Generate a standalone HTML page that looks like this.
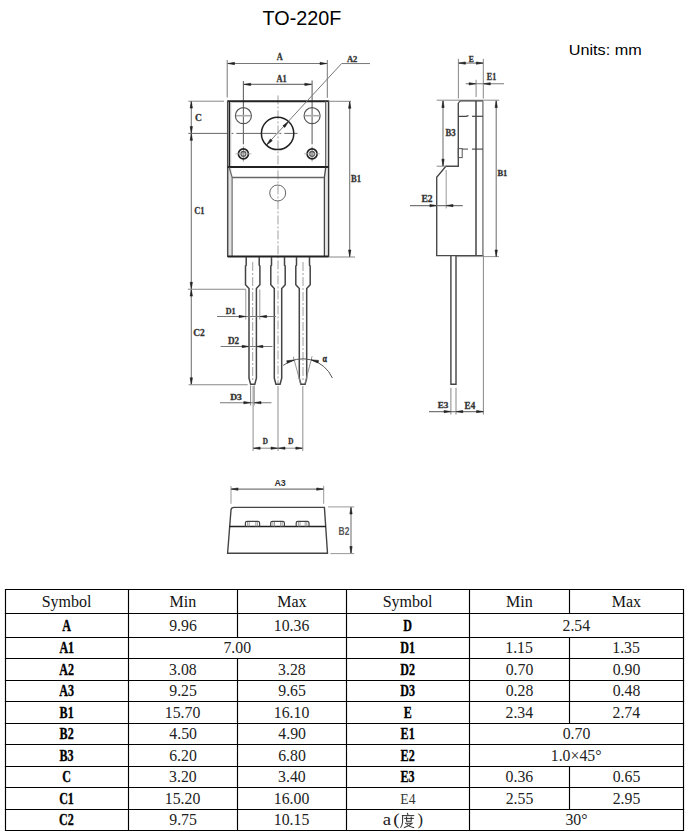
<!DOCTYPE html>
<html><head><meta charset="utf-8"><style>
html,body{margin:0;padding:0;background:#fff;}
body{width:690px;height:837px;overflow:hidden;position:relative;}
svg{position:absolute;left:0;top:0;}
</style></head><body>
<svg width="690" height="837" viewBox="0 0 690 837">
<rect width="690" height="837" fill="#fff"/>
<line x1="4.9" y1="589.5" x2="684.1" y2="589.5" stroke="#000" stroke-width="1.15" />
<line x1="4.9" y1="613.5" x2="684.1" y2="613.5" stroke="#000" stroke-width="1.15" />
<line x1="4.9" y1="637.5" x2="684.1" y2="637.5" stroke="#000" stroke-width="1.15" />
<line x1="4.9" y1="658.5" x2="684.1" y2="658.5" stroke="#000" stroke-width="1.15" />
<line x1="4.9" y1="680.5" x2="684.1" y2="680.5" stroke="#000" stroke-width="1.15" />
<line x1="4.9" y1="701.5" x2="684.1" y2="701.5" stroke="#000" stroke-width="1.15" />
<line x1="4.9" y1="723.5" x2="684.1" y2="723.5" stroke="#000" stroke-width="1.15" />
<line x1="4.9" y1="744.5" x2="684.1" y2="744.5" stroke="#000" stroke-width="1.15" />
<line x1="4.9" y1="766.5" x2="684.1" y2="766.5" stroke="#000" stroke-width="1.15" />
<line x1="4.9" y1="787.5" x2="684.1" y2="787.5" stroke="#000" stroke-width="1.15" />
<line x1="4.9" y1="809.5" x2="684.1" y2="809.5" stroke="#000" stroke-width="1.15" />
<line x1="4.9" y1="830.5" x2="684.1" y2="830.5" stroke="#000" stroke-width="1.15" />
<line x1="5.5" y1="589.5" x2="5.5" y2="830.5" stroke="#000" stroke-width="1.15" />
<line x1="128.5" y1="589.5" x2="128.5" y2="830.5" stroke="#000" stroke-width="1.15" />
<line x1="346.5" y1="589.5" x2="346.5" y2="830.5" stroke="#000" stroke-width="1.15" />
<line x1="469.5" y1="589.5" x2="469.5" y2="830.5" stroke="#000" stroke-width="1.15" />
<line x1="683.5" y1="589.5" x2="683.5" y2="830.5" stroke="#000" stroke-width="1.15" />
<line x1="237.5" y1="589.5" x2="237.5" y2="613.5" stroke="#000" stroke-width="1.15" />
<line x1="237.5" y1="613.5" x2="237.5" y2="637.5" stroke="#000" stroke-width="1.15" />
<line x1="237.5" y1="658.5" x2="237.5" y2="680.5" stroke="#000" stroke-width="1.15" />
<line x1="237.5" y1="680.5" x2="237.5" y2="701.5" stroke="#000" stroke-width="1.15" />
<line x1="237.5" y1="701.5" x2="237.5" y2="723.5" stroke="#000" stroke-width="1.15" />
<line x1="237.5" y1="723.5" x2="237.5" y2="744.5" stroke="#000" stroke-width="1.15" />
<line x1="237.5" y1="744.5" x2="237.5" y2="766.5" stroke="#000" stroke-width="1.15" />
<line x1="237.5" y1="766.5" x2="237.5" y2="787.5" stroke="#000" stroke-width="1.15" />
<line x1="237.5" y1="787.5" x2="237.5" y2="809.5" stroke="#000" stroke-width="1.15" />
<line x1="237.5" y1="809.5" x2="237.5" y2="830.5" stroke="#000" stroke-width="1.15" />
<line x1="569.5" y1="589.5" x2="569.5" y2="613.5" stroke="#000" stroke-width="1.15" />
<line x1="569.5" y1="637.5" x2="569.5" y2="658.5" stroke="#000" stroke-width="1.15" />
<line x1="569.5" y1="658.5" x2="569.5" y2="680.5" stroke="#000" stroke-width="1.15" />
<line x1="569.5" y1="680.5" x2="569.5" y2="701.5" stroke="#000" stroke-width="1.15" />
<line x1="569.5" y1="701.5" x2="569.5" y2="723.5" stroke="#000" stroke-width="1.15" />
<line x1="569.5" y1="766.5" x2="569.5" y2="787.5" stroke="#000" stroke-width="1.15" />
<line x1="569.5" y1="787.5" x2="569.5" y2="809.5" stroke="#000" stroke-width="1.15" />
<path d="M227.2,60 L227.2,97.5" fill="none" stroke="#777" stroke-width="1" stroke-linecap="butt" stroke-linejoin="miter"/>
<path d="M327.3,60 L327.3,97.8" fill="none" stroke="#777" stroke-width="1" stroke-linecap="butt" stroke-linejoin="miter"/>
<path d="M227.2,63.5 L327.3,63.5" fill="none" stroke="#777" stroke-width="1.2" stroke-linecap="butt" stroke-linejoin="miter"/>
<path d="M228.00,63.50 L234.50,62.35 L234.50,64.65 Z" fill="#222" stroke="#222" stroke-width="0.6" stroke-linejoin="round"/>
<path d="M326.50,63.50 L320.00,64.65 L320.00,62.35 Z" fill="#222" stroke="#222" stroke-width="0.6" stroke-linejoin="round"/>
<path d="M243.4,84.4 L312.1,84.4" fill="none" stroke="#777" stroke-width="1.2" stroke-linecap="butt" stroke-linejoin="miter"/>
<path d="M244.20,84.40 L250.70,83.25 L250.70,85.55 Z" fill="#222" stroke="#222" stroke-width="0.6" stroke-linejoin="round"/>
<path d="M311.30,84.40 L304.80,85.55 L304.80,83.25 Z" fill="#222" stroke="#222" stroke-width="0.6" stroke-linejoin="round"/>
<path d="M243.4,81 L243.4,144.2" fill="none" stroke="#666" stroke-width="1.1" stroke-linecap="butt" stroke-linejoin="miter"/>
<path d="M243.4,146.5 L243.4,161.5" fill="none" stroke="#888" stroke-width="0.9" stroke-linecap="butt" stroke-linejoin="miter"/>
<path d="M312.1,80.5 L312.1,144.2" fill="none" stroke="#666" stroke-width="1.1" stroke-linecap="butt" stroke-linejoin="miter"/>
<path d="M312.1,146.5 L312.1,161.5" fill="none" stroke="#888" stroke-width="0.9" stroke-linecap="butt" stroke-linejoin="miter"/>
<path d="M278,95.4 L278,384" fill="none" stroke="#a0a0a0" stroke-width="1" stroke-linecap="butt" stroke-linejoin="miter" stroke-dasharray="9 2 2 2"/>
<path d="M188.3,133.4 L297.6,133.4" fill="none" stroke="#666" stroke-width="1" stroke-linecap="butt" stroke-linejoin="miter" stroke-dasharray="40 3 2 3"/>
<path d="M227.7,101.3 L328.6,101.3" fill="none" stroke="#222" stroke-width="2.1" stroke-linecap="butt" stroke-linejoin="miter"/>
<rect x="228.3" y="102" width="3.2" height="154" fill="#e2e2e2"/>
<rect x="324.9" y="102" width="3.1" height="154" fill="#e8e8e8"/>
<path d="M227.7,100.5 L227.7,257" fill="none" stroke="#4a4a4a" stroke-width="1.5" stroke-linecap="butt" stroke-linejoin="miter"/>
<path d="M229.5,101 L229.5,167" fill="none" stroke="#222" stroke-width="1.3" stroke-linecap="butt" stroke-linejoin="miter"/>
<path d="M328.6,100.5 L328.6,257" fill="none" stroke="#333" stroke-width="1.4" stroke-linecap="butt" stroke-linejoin="miter"/>
<path d="M325.7,101 L325.7,167" fill="none" stroke="#555" stroke-width="1.1" stroke-linecap="butt" stroke-linejoin="miter"/>
<path d="M227.7,167 L328.6,167" fill="none" stroke="#222" stroke-width="1.9" stroke-linecap="butt" stroke-linejoin="miter"/>
<path d="M229.2,167.5 L232.1,177.4 L232.1,256" fill="none" stroke="#666" stroke-width="1.2" stroke-linecap="butt" stroke-linejoin="miter"/>
<path d="M325.7,167.5 L324.4,177.4 L324.4,256" fill="none" stroke="#444" stroke-width="1.3" stroke-linecap="butt" stroke-linejoin="miter"/>
<path d="M232.1,177.5 L324.4,177.5" fill="none" stroke="#666" stroke-width="1.3" stroke-linecap="butt" stroke-linejoin="miter"/>
<path d="M227.7,256.4 L328.6,256.4" fill="none" stroke="#222" stroke-width="2.0" stroke-linecap="butt" stroke-linejoin="miter"/>
<circle cx="243.4" cy="115.7" r="8.0" fill="none" stroke="#555" stroke-width="1.2"/>
<path d="M235.9,115.7 L250.9,115.7" fill="none" stroke="#aaa" stroke-width="1.6" stroke-linecap="butt" stroke-linejoin="miter"/>
<circle cx="243.4" cy="153.9" r="5.0" fill="none" stroke="#222" stroke-width="1.7"/>
<circle cx="243.4" cy="153.9" r="2.4" fill="none" stroke="#555" stroke-width="1.3"/>
<circle cx="243.4" cy="153.9" r="0.8" fill="none" stroke="#888" stroke-width="0.8"/>
<path d="M235.4,153.8 L251.4,153.8" fill="none" stroke="#aaa" stroke-width="0.8" stroke-linecap="butt" stroke-linejoin="miter"/>
<circle cx="312.1" cy="115.7" r="8.0" fill="none" stroke="#555" stroke-width="1.2"/>
<path d="M304.6,115.7 L319.6,115.7" fill="none" stroke="#aaa" stroke-width="1.6" stroke-linecap="butt" stroke-linejoin="miter"/>
<circle cx="312.1" cy="153.9" r="5.0" fill="none" stroke="#222" stroke-width="1.7"/>
<circle cx="312.1" cy="153.9" r="2.4" fill="none" stroke="#555" stroke-width="1.3"/>
<circle cx="312.1" cy="153.9" r="0.8" fill="none" stroke="#888" stroke-width="0.8"/>
<path d="M304.1,153.8 L320.1,153.8" fill="none" stroke="#aaa" stroke-width="0.8" stroke-linecap="butt" stroke-linejoin="miter"/>
<circle cx="277.6" cy="133.4" r="16.2" fill="none" stroke="#222" stroke-width="1.5"/>
<circle cx="277.7" cy="193.0" r="8.0" fill="none" stroke="#666" stroke-width="1.0"/>
<path d="M267.8,143.6 L341.6,63.55 L370,63.55" fill="none" stroke="#777" stroke-width="1.0" stroke-linecap="butt" stroke-linejoin="miter"/>
<path d="M266.60,145.00 L270.38,138.97 L272.29,140.73 Z" fill="#222" stroke="#222" stroke-width="0.6" stroke-linejoin="round"/>
<path d="M288.60,121.40 L284.82,127.43 L282.91,125.67 Z" fill="#222" stroke="#222" stroke-width="0.6" stroke-linejoin="round"/>
<path d="M188.3,101.2 L224,101.2" fill="none" stroke="#888" stroke-width="1" stroke-linecap="butt" stroke-linejoin="miter"/>
<path d="M191.3,101.2 L191.3,384.7" fill="none" stroke="#777" stroke-width="1.1" stroke-linecap="butt" stroke-linejoin="miter"/>
<path d="M191.30,101.60 L192.45,108.10 L190.15,108.10 Z" fill="#222" stroke="#222" stroke-width="0.6" stroke-linejoin="round"/>
<path d="M191.30,133.00 L190.15,126.50 L192.45,126.50 Z" fill="#222" stroke="#222" stroke-width="0.6" stroke-linejoin="round"/>
<path d="M191.30,133.80 L192.45,140.30 L190.15,140.30 Z" fill="#222" stroke="#222" stroke-width="0.6" stroke-linejoin="round"/>
<path d="M191.30,288.80 L190.15,282.30 L192.45,282.30 Z" fill="#222" stroke="#222" stroke-width="0.6" stroke-linejoin="round"/>
<path d="M191.30,289.60 L192.45,296.10 L190.15,296.10 Z" fill="#222" stroke="#222" stroke-width="0.6" stroke-linejoin="round"/>
<path d="M191.30,384.30 L190.15,377.80 L192.45,377.80 Z" fill="#222" stroke="#222" stroke-width="0.6" stroke-linejoin="round"/>
<path d="M187.9,289.3 L246,289.3" fill="none" stroke="#888" stroke-width="1.1" stroke-linecap="butt" stroke-linejoin="miter"/>
<path d="M188.6,384.8 L247.7,384.8" fill="none" stroke="#888" stroke-width="1.1" stroke-linecap="butt" stroke-linejoin="miter"/>
<path d="M328.6,101.3 L351,101.3" fill="none" stroke="#888" stroke-width="1" stroke-linecap="butt" stroke-linejoin="miter"/>
<path d="M328.6,257 L355,257" fill="none" stroke="#888" stroke-width="1" stroke-linecap="butt" stroke-linejoin="miter"/>
<path d="M349.7,101.3 L349.7,257" fill="none" stroke="#777" stroke-width="1.1" stroke-linecap="butt" stroke-linejoin="miter"/>
<path d="M349.70,101.80 L350.85,108.30 L348.55,108.30 Z" fill="#222" stroke="#222" stroke-width="0.6" stroke-linejoin="round"/>
<path d="M349.70,256.50 L348.55,250.00 L350.85,250.00 Z" fill="#222" stroke="#222" stroke-width="0.6" stroke-linejoin="round"/>
<path d="M246.2,257 L246.2,265.3 L245.5,266 L245.5,284.8 L249.0,288.6 L249.0,378.2 L250.6,384.3 L254.79999999999998,384.3 L256.4,378.2 L256.4,288.6 L259.9,284.8 L259.9,266 L259.2,265.3 L259.2,257" fill="none" stroke="#444" stroke-width="1.5" stroke-linecap="butt" stroke-linejoin="miter"/>
<path d="M252.7,262 L252.7,382" fill="none" stroke="#a0a0a0" stroke-width="1" stroke-linecap="butt" stroke-linejoin="miter" stroke-dasharray="9 2 2 2"/>
<path d="M271.5,257 L271.5,265.3 L270.8,266 L270.8,284.8 L274.3,288.6 L274.3,378.2 L275.9,384.3 L280.1,384.3 L281.7,378.2 L281.7,288.6 L285.2,284.8 L285.2,266 L284.5,265.3 L284.5,257" fill="none" stroke="#444" stroke-width="1.5" stroke-linecap="butt" stroke-linejoin="miter"/>
<path d="M296.5,257 L296.5,265.3 L295.8,266 L295.8,284.8 L299.3,288.6 L299.3,378.2 L300.9,384.3 L305.1,384.3 L306.7,378.2 L306.7,288.6 L310.2,284.8 L310.2,266 L309.5,265.3 L309.5,257" fill="none" stroke="#444" stroke-width="1.5" stroke-linecap="butt" stroke-linejoin="miter"/>
<path d="M303.0,262 L303.0,382" fill="none" stroke="#a0a0a0" stroke-width="1" stroke-linecap="butt" stroke-linejoin="miter" stroke-dasharray="9 2 2 2"/>
<path d="M245.8,289.5 L245.8,319.5" fill="none" stroke="#999" stroke-width="1" stroke-linecap="butt" stroke-linejoin="miter"/>
<path d="M259.8,289.5 L259.8,319.5" fill="none" stroke="#999" stroke-width="1" stroke-linecap="butt" stroke-linejoin="miter"/>
<path d="M217,316.5 L276,316.5" fill="none" stroke="#777" stroke-width="1.1" stroke-linecap="butt" stroke-linejoin="miter"/>
<path d="M245.50,316.50 L239.00,317.65 L239.00,315.35 Z" fill="#222" stroke="#222" stroke-width="0.6" stroke-linejoin="round"/>
<path d="M260.10,316.50 L266.60,315.35 L266.60,317.65 Z" fill="#222" stroke="#222" stroke-width="0.6" stroke-linejoin="round"/>
<path d="M220.6,346.5 L272.4,346.5" fill="none" stroke="#777" stroke-width="1.1" stroke-linecap="butt" stroke-linejoin="miter"/>
<path d="M248.60,346.50 L242.10,347.65 L242.10,345.35 Z" fill="#222" stroke="#222" stroke-width="0.6" stroke-linejoin="round"/>
<path d="M256.40,346.50 L262.90,345.35 L262.90,347.65 Z" fill="#222" stroke="#222" stroke-width="0.6" stroke-linejoin="round"/>
<path d="M250.6,385.5 L250.6,405.5" fill="none" stroke="#888" stroke-width="1" stroke-linecap="butt" stroke-linejoin="miter"/>
<path d="M254.2,385.5 L254.2,405.5" fill="none" stroke="#888" stroke-width="1" stroke-linecap="butt" stroke-linejoin="miter"/>
<path d="M220,402.7 L271.5,402.7" fill="none" stroke="#777" stroke-width="1.1" stroke-linecap="butt" stroke-linejoin="miter"/>
<path d="M250.30,402.70 L243.80,403.85 L243.80,401.55 Z" fill="#222" stroke="#222" stroke-width="0.6" stroke-linejoin="round"/>
<path d="M254.50,402.70 L261.00,401.55 L261.00,403.85 Z" fill="#222" stroke="#222" stroke-width="0.6" stroke-linejoin="round"/>
<path d="M253.1,386 L253.1,451" fill="none" stroke="#999" stroke-width="1.1" stroke-linecap="butt" stroke-linejoin="miter"/>
<path d="M278.0,386 L278.0,451" fill="none" stroke="#999" stroke-width="1.1" stroke-linecap="butt" stroke-linejoin="miter"/>
<path d="M302.8,386 L302.8,451" fill="none" stroke="#999" stroke-width="1.1" stroke-linecap="butt" stroke-linejoin="miter"/>
<path d="M253.1,448.2 L302.8,448.2" fill="none" stroke="#888" stroke-width="1.0" stroke-linecap="butt" stroke-linejoin="miter"/>
<path d="M253.60,448.20 L260.10,447.05 L260.10,449.35 Z" fill="#222" stroke="#222" stroke-width="0.6" stroke-linejoin="round"/>
<path d="M277.50,448.20 L271.00,449.35 L271.00,447.05 Z" fill="#222" stroke="#222" stroke-width="0.6" stroke-linejoin="round"/>
<path d="M278.50,448.20 L285.00,447.05 L285.00,449.35 Z" fill="#222" stroke="#222" stroke-width="0.6" stroke-linejoin="round"/>
<path d="M302.30,448.20 L295.80,449.35 L295.80,447.05 Z" fill="#222" stroke="#222" stroke-width="0.6" stroke-linejoin="round"/>
<path d="M283.2,365.4 A32.4,32.4 0 0 1 332.4,378" fill="none" stroke="#555" stroke-width="1.0"/>
<path d="M293.3,356.7 L300.6,383.6" fill="none" stroke="#888" stroke-width="0.9" stroke-linecap="butt" stroke-linejoin="miter"/>
<path d="M312.1,356.2 L305.0,383.6" fill="none" stroke="#888" stroke-width="0.9" stroke-linecap="butt" stroke-linejoin="miter"/>
<path d="M294.30,360.00 L287.40,363.22 L286.72,360.71 Z" fill="#222" stroke="#222" stroke-width="0.6" stroke-linejoin="round"/>
<path d="M311.00,359.80 L318.59,360.41 L317.94,362.93 Z" fill="#222" stroke="#222" stroke-width="0.6" stroke-linejoin="round"/>
<path d="M436.7,100.2 L499.3,100.2" fill="none" stroke="#888" stroke-width="1" stroke-linecap="butt" stroke-linejoin="miter"/>
<path d="M458.4,58.8 L458.4,98.5" fill="none" stroke="#888" stroke-width="1" stroke-linecap="butt" stroke-linejoin="miter"/>
<path d="M483.3,58.8 L483.3,98.5" fill="none" stroke="#888" stroke-width="1" stroke-linecap="butt" stroke-linejoin="miter"/>
<path d="M458.4,63.1 L483.3,63.1" fill="none" stroke="#777" stroke-width="1.1" stroke-linecap="butt" stroke-linejoin="miter"/>
<path d="M458.90,63.10 L465.40,61.95 L465.40,64.25 Z" fill="#222" stroke="#222" stroke-width="0.6" stroke-linejoin="round"/>
<path d="M482.80,63.10 L476.30,64.25 L476.30,61.95 Z" fill="#222" stroke="#222" stroke-width="0.6" stroke-linejoin="round"/>
<path d="M476.1,79.8 L476.1,97" fill="none" stroke="#888" stroke-width="1" stroke-linecap="butt" stroke-linejoin="miter"/>
<path d="M465.7,83.8 L504,83.8" fill="none" stroke="#777" stroke-width="1.1" stroke-linecap="butt" stroke-linejoin="miter"/>
<path d="M475.60,83.80 L469.10,84.95 L469.10,82.65 Z" fill="#222" stroke="#222" stroke-width="0.6" stroke-linejoin="round"/>
<path d="M483.80,83.80 L490.30,82.65 L490.30,84.95 Z" fill="#222" stroke="#222" stroke-width="0.6" stroke-linejoin="round"/>
<path d="M460,100.9 L483,100.9" fill="none" stroke="#555" stroke-width="1.4" stroke-linecap="butt" stroke-linejoin="miter"/>
<path d="M458.3,103 L460.3,100.9" fill="none" stroke="#555" stroke-width="1.2" stroke-linecap="butt" stroke-linejoin="miter"/>
<path d="M458.3,103 L458.3,166.2 L445.9,166.2 L436.7,177.2 L436.7,255.6 L483,255.6" fill="none" stroke="#4a4a4a" stroke-width="1.4" stroke-linecap="butt" stroke-linejoin="miter"/>
<path d="M476.0,101 L476.0,255.6" fill="none" stroke="#444" stroke-width="1.5" stroke-linecap="butt" stroke-linejoin="miter"/>
<path d="M482.9,101 L482.9,255.6" fill="none" stroke="#808080" stroke-width="1.5" stroke-linecap="butt" stroke-linejoin="miter"/>
<path d="M458.3,116.4 L466,116.4 L468.5,115.6" fill="none" stroke="#444" stroke-width="1.2" stroke-linecap="butt" stroke-linejoin="miter"/>
<path d="M472,116.3 L483,116.3" fill="none" stroke="#444" stroke-width="1.2" stroke-linecap="butt" stroke-linejoin="miter"/>
<path d="M462,149.1 L468,149.1" fill="none" stroke="#555" stroke-width="1.1" stroke-linecap="butt" stroke-linejoin="miter"/>
<path d="M472,149.1 L483,149.1" fill="none" stroke="#444" stroke-width="1.1" stroke-linecap="butt" stroke-linejoin="miter"/>
<rect x="458.3" y="148.6" width="3.9" height="9" fill="none" stroke="#555" stroke-width="1"/>
<path d="M436.7,166.2 L446,166.2" fill="none" stroke="#888" stroke-width="1" stroke-linecap="butt" stroke-linejoin="miter"/>
<path d="M443,100.5 L443,166.2" fill="none" stroke="#777" stroke-width="1.1" stroke-linecap="butt" stroke-linejoin="miter"/>
<path d="M443.00,101.00 L444.15,107.50 L441.85,107.50 Z" fill="#222" stroke="#222" stroke-width="0.6" stroke-linejoin="round"/>
<path d="M443.00,165.70 L441.85,159.20 L444.15,159.20 Z" fill="#222" stroke="#222" stroke-width="0.6" stroke-linejoin="round"/>
<path d="M456.6,256.6 L499,256.6" fill="none" stroke="#999" stroke-width="1" stroke-linecap="butt" stroke-linejoin="miter"/>
<path d="M496.2,100.5 L496.2,257" fill="none" stroke="#777" stroke-width="1.1" stroke-linecap="butt" stroke-linejoin="miter"/>
<path d="M496.20,101.00 L497.35,107.50 L495.05,107.50 Z" fill="#222" stroke="#222" stroke-width="0.6" stroke-linejoin="round"/>
<path d="M496.20,256.50 L495.05,250.00 L497.35,250.00 Z" fill="#222" stroke="#222" stroke-width="0.6" stroke-linejoin="round"/>
<path d="M446.2,170 L446.2,208.4" fill="none" stroke="#999" stroke-width="1" stroke-linecap="butt" stroke-linejoin="miter"/>
<path d="M410,205.6 L462.8,205.6" fill="none" stroke="#777" stroke-width="1.1" stroke-linecap="butt" stroke-linejoin="miter"/>
<path d="M436.40,205.60 L429.90,206.75 L429.90,204.45 Z" fill="#222" stroke="#222" stroke-width="0.6" stroke-linejoin="round"/>
<path d="M446.50,205.60 L453.00,204.45 L453.00,206.75 Z" fill="#222" stroke="#222" stroke-width="0.6" stroke-linejoin="round"/>
<path d="M450.9,256 L450.9,384.2 L456.0,384.2 L456.0,256" fill="none" stroke="#444" stroke-width="1.4" stroke-linecap="butt" stroke-linejoin="miter"/>
<path d="M450.9,387.8 L450.9,414.6" fill="none" stroke="#888" stroke-width="1" stroke-linecap="butt" stroke-linejoin="miter"/>
<path d="M456.0,387.8 L456.0,414.6" fill="none" stroke="#888" stroke-width="1" stroke-linecap="butt" stroke-linejoin="miter"/>
<path d="M483.4,255 L483.4,414.6" fill="none" stroke="#888" stroke-width="1" stroke-linecap="butt" stroke-linejoin="miter"/>
<path d="M429,411.6 L483.8,411.6" fill="none" stroke="#777" stroke-width="1.1" stroke-linecap="butt" stroke-linejoin="miter"/>
<path d="M450.60,411.60 L444.10,412.75 L444.10,410.45 Z" fill="#222" stroke="#222" stroke-width="0.6" stroke-linejoin="round"/>
<path d="M456.30,411.60 L462.80,410.45 L462.80,412.75 Z" fill="#222" stroke="#222" stroke-width="0.6" stroke-linejoin="round"/>
<path d="M483.10,411.60 L476.60,412.75 L476.60,410.45 Z" fill="#222" stroke="#222" stroke-width="0.6" stroke-linejoin="round"/>
<path d="M231,486 L231,503.8" fill="none" stroke="#999" stroke-width="1" stroke-linecap="butt" stroke-linejoin="miter"/>
<path d="M323.7,485.8 L323.7,503.8" fill="none" stroke="#999" stroke-width="1" stroke-linecap="butt" stroke-linejoin="miter"/>
<path d="M231,489.1 L323.7,489.1" fill="none" stroke="#777" stroke-width="1.1" stroke-linecap="butt" stroke-linejoin="miter"/>
<path d="M231.50,489.10 L238.00,487.95 L238.00,490.25 Z" fill="#222" stroke="#222" stroke-width="0.6" stroke-linejoin="round"/>
<path d="M323.20,489.10 L316.70,490.25 L316.70,487.95 Z" fill="#222" stroke="#222" stroke-width="0.6" stroke-linejoin="round"/>
<path d="M227.6,553.3 L231,510 Q231.3,507.4 234,507.4 L324.4,507.4 L327.5,553.3 Z" fill="none" stroke="#444" stroke-width="1.4"/>
<path d="M229.2,526.5 L326,526.5" fill="none" stroke="#222" stroke-width="1.6" stroke-linecap="butt" stroke-linejoin="miter"/>
<path d="M245.4,526.5 L245.4,523 Q245.4,521.4 247.0,521.4 L258.0,521.4 Q259.6,521.4 259.6,523 L259.6,526.5" fill="none" stroke="#444" stroke-width="1.2"/>
<line x1="247.6" y1="522" x2="247.6" y2="526.5" stroke="#888" stroke-width="0.8"/>
<line x1="249.20000000000002" y1="522" x2="249.20000000000002" y2="526.5" stroke="#888" stroke-width="0.8"/>
<line x1="257.40000000000003" y1="522" x2="257.40000000000003" y2="526.5" stroke="#888" stroke-width="0.8"/>
<line x1="255.8" y1="522" x2="255.8" y2="526.5" stroke="#888" stroke-width="0.8"/>
<path d="M270.7,526.5 L270.7,523 Q270.7,521.4 272.3,521.4 L282.79999999999995,521.4 Q284.4,521.4 284.4,523 L284.4,526.5" fill="none" stroke="#444" stroke-width="1.2"/>
<line x1="272.9" y1="522" x2="272.9" y2="526.5" stroke="#888" stroke-width="0.8"/>
<line x1="274.5" y1="522" x2="274.5" y2="526.5" stroke="#888" stroke-width="0.8"/>
<line x1="282.2" y1="522" x2="282.2" y2="526.5" stroke="#888" stroke-width="0.8"/>
<line x1="280.59999999999997" y1="522" x2="280.59999999999997" y2="526.5" stroke="#888" stroke-width="0.8"/>
<path d="M296.2,526.5 L296.2,523 Q296.2,521.4 297.8,521.4 L307.4,521.4 Q309.0,521.4 309.0,523 L309.0,526.5" fill="none" stroke="#444" stroke-width="1.2"/>
<line x1="298.4" y1="522" x2="298.4" y2="526.5" stroke="#888" stroke-width="0.8"/>
<line x1="300.0" y1="522" x2="300.0" y2="526.5" stroke="#888" stroke-width="0.8"/>
<line x1="306.8" y1="522" x2="306.8" y2="526.5" stroke="#888" stroke-width="0.8"/>
<line x1="305.2" y1="522" x2="305.2" y2="526.5" stroke="#888" stroke-width="0.8"/>
<path d="M328,506.9 L354.2,506.9" fill="none" stroke="#999" stroke-width="1" stroke-linecap="butt" stroke-linejoin="miter"/>
<path d="M330.4,553.6 L354.2,553.6" fill="none" stroke="#999" stroke-width="1" stroke-linecap="butt" stroke-linejoin="miter"/>
<path d="M351,507 L351,553.5" fill="none" stroke="#777" stroke-width="1.1" stroke-linecap="butt" stroke-linejoin="miter"/>
<path d="M351.00,507.50 L352.15,514.00 L349.85,514.00 Z" fill="#222" stroke="#222" stroke-width="0.6" stroke-linejoin="round"/>
<path d="M351.00,553.00 L349.85,546.50 L352.15,546.50 Z" fill="#222" stroke="#222" stroke-width="0.6" stroke-linejoin="round"/>
<text transform="translate(41.72,606.70) scale(1,1)" style="font-family:'Liberation Serif';font-weight:normal;font-size:16.0px" fill="#111">Symbol</text>
<text transform="translate(169.56,606.70) scale(1,1)" style="font-family:'Liberation Serif';font-weight:normal;font-size:16.0px" fill="#111">Min</text>
<text transform="translate(277.20,606.70) scale(1,1)" style="font-family:'Liberation Serif';font-weight:normal;font-size:16.0px" fill="#111">Max</text>
<text transform="translate(62.16,630.98) scale(0.74,1.0)" style="font-family:'Liberation Serif';font-weight:bold;font-size:16.3px" fill="#000" stroke="#000" stroke-width="0.35">A</text>
<text transform="translate(169.18,630.78) scale(1.0,1.04)" style="font-family:'Liberation Serif';font-weight:normal;font-size:15.8px" fill="#222">9.96</text>
<text transform="translate(273.75,630.78) scale(1.0,1.04)" style="font-family:'Liberation Serif';font-weight:normal;font-size:15.8px" fill="#222">10.36</text>
<text transform="translate(59.38,653.48) scale(0.74,1.0)" style="font-family:'Liberation Serif';font-weight:bold;font-size:16.3px" fill="#000" stroke="#000" stroke-width="0.35">A1</text>
<text transform="translate(223.44,653.28) scale(1.0,1.04)" style="font-family:'Liberation Serif';font-weight:normal;font-size:15.8px" fill="#222">7.00</text>
<text transform="translate(59.32,674.90) scale(0.74,1.0)" style="font-family:'Liberation Serif';font-weight:bold;font-size:16.3px" fill="#000" stroke="#000" stroke-width="0.35">A2</text>
<text transform="translate(169.10,674.78) scale(1.0,1.04)" style="font-family:'Liberation Serif';font-weight:normal;font-size:15.8px" fill="#222">3.08</text>
<text transform="translate(278.10,674.78) scale(1.0,1.04)" style="font-family:'Liberation Serif';font-weight:normal;font-size:15.8px" fill="#222">3.28</text>
<text transform="translate(59.26,696.32) scale(0.74,1.0)" style="font-family:'Liberation Serif';font-weight:bold;font-size:16.3px" fill="#000" stroke="#000" stroke-width="0.35">A3</text>
<text transform="translate(169.25,696.28) scale(1.0,1.04)" style="font-family:'Liberation Serif';font-weight:normal;font-size:15.8px" fill="#222">9.25</text>
<text transform="translate(278.25,696.28) scale(1.0,1.04)" style="font-family:'Liberation Serif';font-weight:normal;font-size:15.8px" fill="#222">9.65</text>
<text transform="translate(59.62,717.98) scale(0.74,1.0)" style="font-family:'Liberation Serif';font-weight:bold;font-size:16.3px" fill="#000" stroke="#000" stroke-width="0.35">B1</text>
<text transform="translate(164.83,717.78) scale(1.0,1.04)" style="font-family:'Liberation Serif';font-weight:normal;font-size:15.8px" fill="#222">15.70</text>
<text transform="translate(273.83,717.78) scale(1.0,1.04)" style="font-family:'Liberation Serif';font-weight:normal;font-size:15.8px" fill="#222">16.10</text>
<text transform="translate(59.62,739.32) scale(0.74,1.0)" style="font-family:'Liberation Serif';font-weight:bold;font-size:16.3px" fill="#000" stroke="#000" stroke-width="0.35">B2</text>
<text transform="translate(169.33,739.28) scale(1.0,1.04)" style="font-family:'Liberation Serif';font-weight:normal;font-size:15.8px" fill="#222">4.50</text>
<text transform="translate(278.33,739.28) scale(1.0,1.04)" style="font-family:'Liberation Serif';font-weight:normal;font-size:15.8px" fill="#222">4.90</text>
<text transform="translate(59.56,760.73) scale(0.74,1.0)" style="font-family:'Liberation Serif';font-weight:bold;font-size:16.3px" fill="#000" stroke="#000" stroke-width="0.35">B3</text>
<text transform="translate(169.18,760.78) scale(1.0,1.04)" style="font-family:'Liberation Serif';font-weight:normal;font-size:15.8px" fill="#222">6.20</text>
<text transform="translate(278.18,760.78) scale(1.0,1.04)" style="font-family:'Liberation Serif';font-weight:normal;font-size:15.8px" fill="#222">6.80</text>
<text transform="translate(62.28,782.32) scale(0.74,1.0)" style="font-family:'Liberation Serif';font-weight:bold;font-size:16.3px" fill="#000" stroke="#000" stroke-width="0.35">C</text>
<text transform="translate(169.10,782.28) scale(1.0,1.04)" style="font-family:'Liberation Serif';font-weight:normal;font-size:15.8px" fill="#222">3.20</text>
<text transform="translate(278.10,782.28) scale(1.0,1.04)" style="font-family:'Liberation Serif';font-weight:normal;font-size:15.8px" fill="#222">3.40</text>
<text transform="translate(59.14,803.90) scale(0.74,1.0)" style="font-family:'Liberation Serif';font-weight:bold;font-size:16.3px" fill="#000" stroke="#000" stroke-width="0.35">C1</text>
<text transform="translate(164.83,803.78) scale(1.0,1.04)" style="font-family:'Liberation Serif';font-weight:normal;font-size:15.8px" fill="#222">15.20</text>
<text transform="translate(273.83,803.78) scale(1.0,1.04)" style="font-family:'Liberation Serif';font-weight:normal;font-size:15.8px" fill="#222">16.00</text>
<text transform="translate(59.08,825.32) scale(0.74,1.0)" style="font-family:'Liberation Serif';font-weight:bold;font-size:16.3px" fill="#000" stroke="#000" stroke-width="0.35">C2</text>
<text transform="translate(169.25,825.28) scale(1.0,1.04)" style="font-family:'Liberation Serif';font-weight:normal;font-size:15.8px" fill="#222">9.75</text>
<text transform="translate(273.83,825.28) scale(1.0,1.04)" style="font-family:'Liberation Serif';font-weight:normal;font-size:15.8px" fill="#222">10.15</text>
<text transform="translate(382.72,606.70) scale(1,1)" style="font-family:'Liberation Serif';font-weight:normal;font-size:16.0px" fill="#111">Symbol</text>
<text transform="translate(506.06,606.70) scale(1,1)" style="font-family:'Liberation Serif';font-weight:normal;font-size:16.0px" fill="#111">Min</text>
<text transform="translate(611.70,606.70) scale(1,1)" style="font-family:'Liberation Serif';font-weight:normal;font-size:16.0px" fill="#111">Max</text>
<text transform="translate(403.34,630.90) scale(0.74,1.0)" style="font-family:'Liberation Serif';font-weight:bold;font-size:16.3px" fill="#000" stroke="#000" stroke-width="0.35">D</text>
<text transform="translate(562.52,630.78) scale(1.0,1.04)" style="font-family:'Liberation Serif';font-weight:normal;font-size:15.8px" fill="#222">2.54</text>
<text transform="translate(400.32,653.48) scale(0.74,1.0)" style="font-family:'Liberation Serif';font-weight:bold;font-size:16.3px" fill="#000" stroke="#000" stroke-width="0.35">D1</text>
<text transform="translate(505.28,653.28) scale(1.0,1.04)" style="font-family:'Liberation Serif';font-weight:normal;font-size:15.8px" fill="#222">1.15</text>
<text transform="translate(612.28,653.28) scale(1.0,1.04)" style="font-family:'Liberation Serif';font-weight:normal;font-size:15.8px" fill="#222">1.35</text>
<text transform="translate(400.26,674.82) scale(0.74,1.0)" style="font-family:'Liberation Serif';font-weight:bold;font-size:16.3px" fill="#000" stroke="#000" stroke-width="0.35">D2</text>
<text transform="translate(505.68,674.78) scale(1.0,1.04)" style="font-family:'Liberation Serif';font-weight:normal;font-size:15.8px" fill="#222">0.70</text>
<text transform="translate(612.67,674.78) scale(1.0,1.04)" style="font-family:'Liberation Serif';font-weight:normal;font-size:15.8px" fill="#222">0.90</text>
<text transform="translate(400.20,696.23) scale(0.74,1.0)" style="font-family:'Liberation Serif';font-weight:bold;font-size:16.3px" fill="#000" stroke="#000" stroke-width="0.35">D3</text>
<text transform="translate(505.68,696.28) scale(1.0,1.04)" style="font-family:'Liberation Serif';font-weight:normal;font-size:15.8px" fill="#222">0.28</text>
<text transform="translate(612.67,696.28) scale(1.0,1.04)" style="font-family:'Liberation Serif';font-weight:normal;font-size:15.8px" fill="#222">0.48</text>
<text transform="translate(403.64,717.90) scale(0.74,1.0)" style="font-family:'Liberation Serif';font-weight:bold;font-size:16.3px" fill="#000" stroke="#000" stroke-width="0.35">E</text>
<text transform="translate(505.52,717.78) scale(1.0,1.04)" style="font-family:'Liberation Serif';font-weight:normal;font-size:15.8px" fill="#222">2.34</text>
<text transform="translate(612.52,717.78) scale(1.0,1.04)" style="font-family:'Liberation Serif';font-weight:normal;font-size:15.8px" fill="#222">2.74</text>
<text transform="translate(400.62,739.48) scale(0.74,1.0)" style="font-family:'Liberation Serif';font-weight:bold;font-size:16.3px" fill="#000" stroke="#000" stroke-width="0.35">E1</text>
<text transform="translate(562.67,739.28) scale(1.0,1.04)" style="font-family:'Liberation Serif';font-weight:normal;font-size:15.8px" fill="#222">0.70</text>
<text transform="translate(400.62,760.82) scale(0.74,1.0)" style="font-family:'Liberation Serif';font-weight:bold;font-size:16.3px" fill="#000" stroke="#000" stroke-width="0.35">E2</text>
<text transform="translate(550.75,760.78) scale(1.0,1.04)" style="font-family:'Liberation Serif';font-weight:normal;font-size:15.8px" fill="#222">1.0×45°</text>
<text transform="translate(400.56,782.23) scale(0.74,1.0)" style="font-family:'Liberation Serif';font-weight:bold;font-size:16.3px" fill="#000" stroke="#000" stroke-width="0.35">E3</text>
<text transform="translate(505.60,782.28) scale(1.0,1.04)" style="font-family:'Liberation Serif';font-weight:normal;font-size:15.8px" fill="#222">0.36</text>
<text transform="translate(612.67,782.28) scale(1.0,1.04)" style="font-family:'Liberation Serif';font-weight:normal;font-size:15.8px" fill="#222">0.65</text>
<text transform="translate(505.68,803.78) scale(1.0,1.04)" style="font-family:'Liberation Serif';font-weight:normal;font-size:15.8px" fill="#222">2.55</text>
<text transform="translate(612.67,803.78) scale(1.0,1.04)" style="font-family:'Liberation Serif';font-weight:normal;font-size:15.8px" fill="#222">2.95</text>
<text transform="translate(565.44,825.28) scale(1.0,1.04)" style="font-family:'Liberation Serif';font-weight:normal;font-size:15.8px" fill="#222">30°</text>
<text transform="translate(400.36,803.74) scale(0.88,1.0)" style="font-family:'Liberation Serif';font-weight:normal;font-size:15.5px" fill="#333">E4</text>
<text transform="translate(382.65,825.43) scale(1.070,1)" style="font-family:'Liberation Serif';font-weight:normal;font-size:17.50px" fill="#222">a</text>
<text transform="translate(393.23,824.72) scale(1.194,1)" style="font-family:'Liberation Serif';font-weight:normal;font-size:16.11px" fill="#222">(</text>
<text transform="translate(417.40,824.72) scale(1.027,1)" style="font-family:'Liberation Serif';font-weight:normal;font-size:16.11px" fill="#222">)</text>
<text transform="translate(262.50,24.50) scale(0.997,1)" style="font-family:'Liberation Sans';font-weight:normal;font-size:19.86px" fill="#000">TO-220F</text>
<text transform="translate(568.80,54.65) scale(1.080,1)" style="font-family:'Liberation Sans';font-weight:normal;font-size:15.00px" fill="#000">Units: mm</text>
<text transform="translate(276.82,60.40) scale(0.770,1)" style="font-family:'Liberation Serif';font-weight:bold;font-size:10.76px" fill="#333" stroke="#333" stroke-width="0.3">A</text>
<text transform="translate(276.52,81.80) scale(0.890,1)" style="font-family:'Liberation Serif';font-weight:bold;font-size:9.39px" fill="#333" stroke="#333" stroke-width="0.3">A1</text>
<text transform="translate(346.91,61.51) scale(0.954,1)" style="font-family:'Liberation Serif';font-weight:bold;font-size:8.96px" fill="#333" stroke="#333" stroke-width="0.3">A2</text>
<text transform="translate(194.93,121.19) scale(0.896,1)" style="font-family:'Liberation Serif';font-weight:bold;font-size:10.61px" fill="#333" stroke="#333" stroke-width="0.3">C</text>
<text transform="translate(194.18,214.00) scale(0.824,1)" style="font-family:'Liberation Serif';font-weight:bold;font-size:10.30px" fill="#333" stroke="#333" stroke-width="0.3">C1</text>
<text transform="translate(193.23,336.29) scale(0.868,1)" style="font-family:'Liberation Serif';font-weight:bold;font-size:10.91px" fill="#333" stroke="#333" stroke-width="0.3">C2</text>
<text transform="translate(350.93,182.20) scale(0.826,1)" style="font-family:'Liberation Serif';font-weight:bold;font-size:10.45px" fill="#333" stroke="#333" stroke-width="0.3">B1</text>
<text transform="translate(225.64,314.30) scale(0.884,1)" style="font-family:'Liberation Serif';font-weight:bold;font-size:9.24px" fill="#333" stroke="#333" stroke-width="0.3">D1</text>
<text transform="translate(228.02,343.69) scale(0.862,1)" style="font-family:'Liberation Serif';font-weight:bold;font-size:10.61px" fill="#333" stroke="#333" stroke-width="0.3">D2</text>
<text transform="translate(230.21,399.84) scale(1.188,1)" style="font-family:'Liberation Serif';font-weight:bold;font-size:8.06px" fill="#333" stroke="#333" stroke-width="0.3">D3</text>
<text transform="translate(262.86,444.20) scale(1.000,1)" style="font-family:'Liberation Serif';font-weight:bold;font-size:7.23px" fill="#333" stroke="#333" stroke-width="0.3">D</text>
<text transform="translate(288.26,444.20) scale(1.000,1)" style="font-family:'Liberation Serif';font-weight:bold;font-size:7.23px" fill="#333" stroke="#333" stroke-width="0.3">D</text>
<text transform="translate(468.65,61.50) scale(0.923,1)" style="font-family:'Liberation Serif';font-weight:bold;font-size:8.31px" fill="#333" stroke="#333" stroke-width="0.3">E</text>
<text transform="translate(486.74,80.30) scale(0.785,1)" style="font-family:'Liberation Serif';font-weight:bold;font-size:10.30px" fill="#333" stroke="#333" stroke-width="0.3">E1</text>
<text transform="translate(445.43,135.89) scale(0.849,1)" style="font-family:'Liberation Serif';font-weight:bold;font-size:10.30px" fill="#333" stroke="#333" stroke-width="0.3">B3</text>
<text transform="translate(497.43,176.30) scale(0.925,1)" style="font-family:'Liberation Serif';font-weight:bold;font-size:9.24px" fill="#333" stroke="#333" stroke-width="0.3">B1</text>
<text transform="translate(421.51,202.31) scale(1.016,1)" style="font-family:'Liberation Serif';font-weight:bold;font-size:9.39px" fill="#333" stroke="#333" stroke-width="0.3">E2</text>
<text transform="translate(437.72,408.21) scale(0.993,1)" style="font-family:'Liberation Serif';font-weight:bold;font-size:9.25px" fill="#333" stroke="#333" stroke-width="0.3">E3</text>
<text transform="translate(464.62,408.80) scale(0.962,1)" style="font-family:'Liberation Serif';font-weight:bold;font-size:9.38px" fill="#333" stroke="#333" stroke-width="0.3">E4</text>
<text transform="translate(322.58,362.09) scale(0.757,1)" style="font-family:'Liberation Serif';font-weight:bold;font-size:10.62px" fill="#222" stroke="#222" stroke-width="0.3">α</text>
<text transform="translate(274.43,486.10) scale(0.905,1)" style="font-family:'Liberation Sans';font-weight:bold;font-size:9.86px" fill="#333">A3</text>
<text transform="translate(338.61,534.60) scale(0.800,1)" style="font-family:'Liberation Sans';font-weight:bold;font-size:10.57px" fill="#555">B2</text>
<g fill="none" stroke="#333" stroke-width="1.05">
<path d="M407.3,812.9 L408,815"/>
<path d="M401.8,815.6 L414.2,815.6"/>
<path d="M402.6,815.6 L402.6,822 Q402.3,825.5 400.5,827.8"/>
<path d="M404.2,818.4 L413.8,818.4"/>
<path d="M406.6,816.6 L406.6,821.2 L411.2,821.2 L411.2,816.6"/>
<path d="M405,823.2 L412.2,823.2 Q409,826.5 403.8,827.8"/>
<path d="M406.5,824 Q409.5,827 414.2,827.8"/>
</g>
</svg>
</body></html>
